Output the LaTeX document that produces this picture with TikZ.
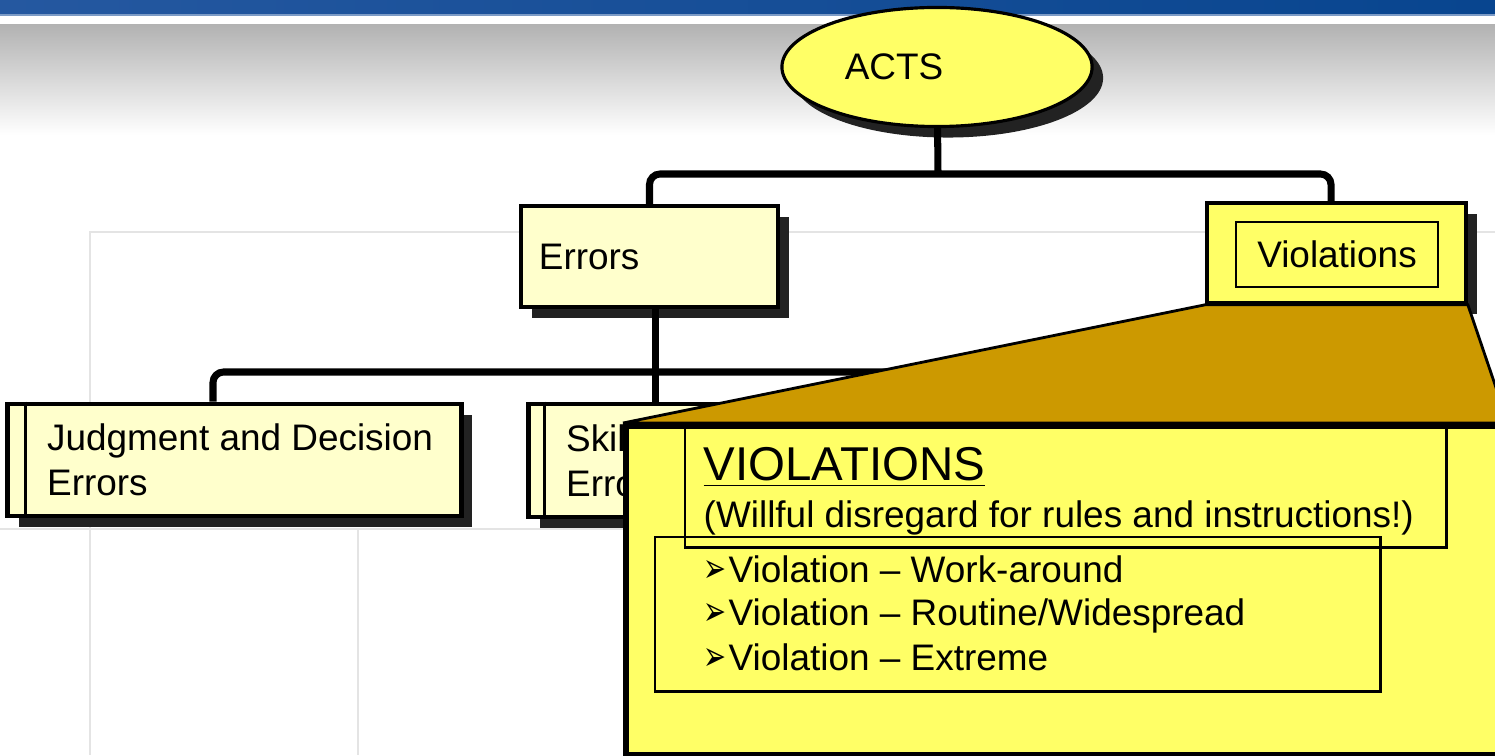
\documentclass[tikz,border=0pt]{standalone}
\usepackage{fontspec}
\usepackage{graphicx}
\setmainfont{Liberation Sans}
\newfontfamily\symf{DejaVu Sans}
\usetikzlibrary{positioning}
\usetikzlibrary{shapes.geometric}
\usetikzlibrary{shadows}

\definecolor{actsyellow}{HTML}{FFFF66}
\definecolor{paleyellow}{HTML}{FFFFCC}
\definecolor{calloutbrown}{HTML}{CC9900}
\definecolor{shadowgray}{HTML}{222222}
\definecolor{gridgray}{HTML}{E4E4E4}
\definecolor{bandblue}{HTML}{2558A0}
\definecolor{banddark}{HTML}{08458F}

\newcommand{\vbullet}{\makebox[0.25cm][l]{\resizebox{0.23cm}{0.22cm}{\symf ➢}}}

\tikzset{
  boxshadow/.style={drop shadow={shadow xshift=0.11cm,shadow yshift=-0.11cm,fill=shadowgray,opacity=1}},
  ovalbox/.style={ellipse,draw,line width=0.9pt,fill=actsyellow,minimum width=3.1cm,minimum height=1.19cm,boxshadow},
  orgbox/.style={rectangle,draw,line width=1pt,fill=paleyellow,boxshadow},
  conn/.style={line width=2pt,rounded corners=3pt},
  gridline/.style={gridgray,line width=0.6pt},
  boxtext/.style={anchor=west,align=left,inner sep=0pt},
  bullettext/.style={anchor=base west,inner sep=0pt},
}

\begin{document}
\begin{tikzpicture}[x=0.01cm,y=-0.01cm,font=\fontsize{10.5}{12.8}\selectfont]
\useasboundingbox (0,0) rectangle (1495,755);
\clip (0,0) rectangle (1495,755);

\fill[white] (0,0) rectangle (1495,755);
\shade[left color=bandblue,right color=banddark] (0,0) rectangle (1495,15);
\fill[bandblue!60] (0,14) rectangle (1495,16);
\shade[top color=black!30,bottom color=white] (0,25) rectangle (1495,135);

\draw[gridline] (90,755) -- (90,232) -- (1495,232);
\draw[gridline] (0,529) -- (623,529);
\draw[gridline] (358,529) -- (358,755);

\node[ovalbox] (acts) at (937,67) {ACTS\rule{0.86cm}{0pt}};

\node[orgbox,minimum width=2.57cm,minimum height=1.01cm] (err) at (649.5,256.5) {};
\node[boxtext] (errtxt) at ([xshift=0.19cm]err.west) {Errors};

\node[orgbox,fill=actsyellow,minimum width=2.59cm,minimum height=1cm] (vio) at (1336.5,253) {};
\node[draw,line width=0.8pt,minimum width=2.02cm,minimum height=0.65cm] (vioin) at (1337,254.5) {Violations};

\node[orgbox,line width=1.4pt,minimum width=4.53cm,minimum height=1.12cm] (jde) at (234.5,460) {};
\draw[line width=1pt] ([xshift=0.2cm]jde.north west) -- ([xshift=0.2cm]jde.south west);
\node[boxtext] (jdetxt) at ([xshift=0.41cm]jde.west) {Judgment and Decision\\Errors};

\node[orgbox,line width=1.4pt,minimum width=4.53cm,minimum height=1.13cm] (ski) at (755.5,460.5) {};
\draw[line width=1pt] ([xshift=0.18cm]ski.north west) -- ([xshift=0.18cm]ski.south west);
\node[boxtext] (skitxt) at ([xshift=0.39cm]ski.west) {Skill-Based\\Errors};

\coordinate (busA) at (938,174);
\coordinate (busB) at (1000,372);
\draw[conn] (acts) -- (busA);
\draw[conn] (err.north) |- (busA) -| ([xshift=-0.055cm]vio.north);
\draw[conn] ([xshift=0.055cm]err.south) -- ([xshift=0.055cm]err.south |- ski.north);
\draw[conn] ([xshift=-0.215cm]jde.north) |- (busB);

\coordinate (cnw) at (623,423);
\coordinate (cne) at (1508,423);
\draw[line width=0.8pt,fill=calloutbrown] (vio.south west) -- (vio.south east) -- (cne) -- (cnw) -- cycle;
\node[draw,line width=1.6pt,fill=actsyellow,minimum width=8.85cm,minimum height=3.29cm,anchor=north west] (callout) at (cnw) {};

\node[draw,line width=0.7pt,minimum width=7.61cm,minimum height=1.19cm,anchor=north west] (vhbox) at (684,427) {};
\node[draw,line width=0.7pt,minimum width=7.25cm,minimum height=1.54cm,anchor=north west] (vlbox) at (654,536) {};

\node[anchor=base west,inner sep=0pt,font=\fontsize{13.5}{16}\selectfont] (vhead) at (703,480) {\underline{VIOLATIONS}};
\node[bullettext] (vsub) at (703,527) {(Willful disregard for rules and instructions!)};

\node[bullettext] (vl1) at (703,582) {\vbullet Violation – Work-around};
\node[bullettext] (vl2) at (703,625) {\vbullet Violation – Routine/Widespread};
\node[bullettext] (vl3) at (703,670) {\vbullet Violation – Extreme};
\end{tikzpicture}
\end{document}
